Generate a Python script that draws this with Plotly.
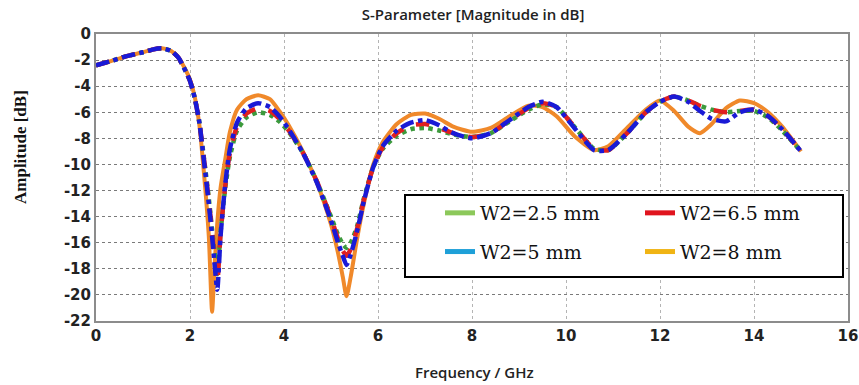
import plotly.graph_objects as go

# Frequency sweep (GHz) shared by all four simulated responses
freq_ghz = [0.0, 0.3, 0.6, 1.0, 1.2, 1.4, 1.6, 1.75, 1.9, 2.0, 2.1, 2.2, 2.3, 2.4,
            2.47, 2.52, 2.58, 2.65, 2.75, 2.85, 3.0, 3.2, 3.45, 3.7, 3.9, 4.1,
            4.4, 4.7, 5.0, 5.15, 5.25, 5.33, 5.42, 5.55, 5.7, 5.9, 6.1, 6.4,
            6.7, 7.0, 7.3, 7.6, 8.0, 8.4, 8.8, 9.2, 9.5, 9.8, 10.2, 10.6, 10.9,
            11.3, 11.7, 12.0, 12.3, 12.6, 12.85, 13.1, 13.4, 13.7, 14.0, 14.3,
            14.6, 15.0]

# |S11| in dB for each W2 width
s11_w2_2_5 = [-2.4, -2.1, -1.75, -1.4, -1.2, -1.1, -1.3, -1.8, -2.8, -3.6, -4.9,
              -6.8, -9.6, -12.6, -15.0, -16.6, -18.4, -15.2, -11.8, -9.4, -7.4,
              -6.4, -6.0, -6.2, -6.7, -7.5, -9.1, -11.3, -14.0, -15.4, -16.1,
              -16.4, -16.0, -14.8, -12.6, -10.2, -8.8, -7.8, -7.3, -7.2, -7.4,
              -7.7, -7.9, -7.6, -6.7, -5.8, -5.4, -5.6, -7.2, -8.8, -8.9, -7.6,
              -6.0, -5.2, -4.8, -5.1, -5.5, -5.8, -6.0, -5.9, -5.9, -6.4, -7.4,
              -9.0]
s11_w2_5 = [-2.4, -2.1, -1.75, -1.4, -1.2, -1.1, -1.3, -1.8, -2.8, -3.6, -4.9,
            -6.8, -9.8, -13.0, -15.5, -17.5, -19.6, -15.5, -11.5, -8.8, -6.8,
            -5.7, -5.3, -5.6, -6.3, -7.3, -9.1, -11.4, -14.3, -16.0, -17.0,
            -17.7, -16.9, -15.2, -12.8, -10.2, -8.6, -7.4, -6.8, -6.6, -7.0,
            -7.6, -8.0, -7.6, -6.6, -5.6, -5.2, -5.6, -7.3, -8.9, -8.9, -7.6,
            -6.0, -5.2, -4.8, -5.2, -5.9, -6.5, -6.7, -6.0, -5.8, -6.3, -7.3,
            -9.0]
s11_w2_6_5 = [-2.4, -2.1, -1.75, -1.4, -1.2, -1.1, -1.3, -1.8, -2.8, -3.6, -4.9,
              -6.8, -9.7, -12.8, -15.2, -17.1, -19.0, -15.3, -11.6, -9.1, -7.1,
              -6.1, -5.7, -5.9, -6.5, -7.4, -9.1, -11.3, -14.1, -15.7, -16.6,
              -17.0, -16.5, -15.0, -12.7, -10.2, -8.7, -7.6, -7.0, -6.9, -7.2,
              -7.6, -7.9, -7.6, -6.6, -5.7, -5.3, -5.6, -7.2, -8.8, -8.9, -7.6,
              -6.0, -5.2, -4.8, -5.1, -5.5, -5.8, -6.0, -5.9, -5.8, -6.3, -7.3,
              -9.0]
s11_w2_8 = [-2.4, -2.1, -1.75, -1.4, -1.2, -1.1, -1.3, -1.8, -2.7, -3.5, -4.8,
            -7.0, -10.8, -15.5, -21.3, -18.0, -14.5, -11.8, -9.6, -7.5, -5.8,
            -5.0, -4.7, -5.0, -5.9, -7.0, -9.0, -11.4, -14.6, -16.8, -18.6,
            -20.1, -18.6, -15.8, -13.0, -10.0, -8.3, -6.9, -6.2, -6.1, -6.5,
            -7.1, -7.5, -7.2, -6.3, -5.5, -5.6, -6.3, -7.9, -8.9, -8.6, -7.2,
            -5.8, -5.1, -5.9, -7.1, -7.6, -6.9, -5.7, -5.1, -5.3, -6.0, -7.1,
            -9.0]

series_names = ["W2=2.5 mm", "W2=6.5 mm", "W2=5 mm", "W2=8 mm"]
series_values = [s11_w2_2_5, s11_w2_6_5, s11_w2_5, s11_w2_8]
curve_colors = ["#3c9a3c", "#e02020", "#1a1ad6", "#f0892a"]
curve_dashes = ["dot", "dash", "dashdot", "solid"]
swatch_colors = ["#8cc85a", "#e0141e", "#1ea0d8", "#f0b414"]

x_tick_vals = [0, 2, 4, 6, 8, 10, 12, 14, 16]
x_tick_text = ["0", "2", "4", "6", "8", "10", "12", "14", "16"]
y_tick_vals = [0, -2, -4, -6, -8, -10, -12, -14, -16, -18, -20, -22]
y_tick_text = ["0", "-2", "-4", "-6", "-8", "-10", "-12", "-14", "-16", "-18",
               "-20", "-22"]

fig = go.Figure()

# Solid W2=8 mm curve underneath, dotted/dashed curves drawn over it
draw_order = [3, 0, 1, 2]
for i in draw_order:
    fig.add_trace(go.Scatter(
        x=freq_ghz, y=series_values[i], mode="lines",
        line=dict(color=curve_colors[i], width=4 if i == 3 else 4.5,
                  dash=curve_dashes[i], shape="spline", smoothing=0.6),
        showlegend=False, hoverinfo="skip"))

# Legend entries: two columns, each its own legend
legend_of = ["legend", "legend2", "legend", "legend2"]
for i, name in enumerate(series_names):
    fig.add_trace(go.Scatter(
        x=[None], y=[None], mode="lines", name=name,
        line=dict(color=swatch_colors[i], width=5),
        legend=legend_of[i], legendgroup=f"g{i}"))

L, R, T, B = 96, 11, 34, 64
W, H = 859, 385
pw, ph = W - L - R, H - T - B

def px_x(px):
    return (px - L) / pw

def px_y(py):
    return (H - B - py) / ph

tick_font = dict(family="DejaVu Sans", size=15, color="#222", weight="bold")
axis_common = dict(showline=True, mirror=True, linecolor="#8c8c8c", linewidth=2,
                   zeroline=False, ticks="", tickfont=tick_font, automargin=False,
                   showgrid=True, griddash="dot", gridwidth=1)

legend_font = dict(family="DejaVu Serif", size=19, color="#111")

fig.update_layout(
    width=W, height=H,
    margin=dict(l=L, r=R, t=T, b=B, autoexpand=False),
    paper_bgcolor="white", plot_bgcolor="white",
    xaxis=dict(range=[0, 16], tickvals=x_tick_vals, ticktext=x_tick_text,
               gridcolor="#b4b4b4", **axis_common),
    yaxis=dict(range=[-22, 0], tickvals=y_tick_vals, ticktext=y_tick_text,
               gridcolor="#7a7a7a", **axis_common),
    title=dict(text="S-Parameter [Magnitude in dB]", x=px_x(473), xanchor="center",
               xref="paper", y=1 - 15 / H, yanchor="middle",
               font=dict(family="Open Sans", size=15, color="#222", weight=600)),
    legend=dict(x=px_x(440), y=px_y(194), xanchor="left", yanchor="top",
                bgcolor="rgba(0,0,0,0)", tracegroupgap=11, font=legend_font),
    legend2=dict(x=px_x(640), y=px_y(194), xanchor="left", yanchor="top",
                 bgcolor="rgba(0,0,0,0)", tracegroupgap=11, font=legend_font),
    shapes=[dict(type="rect", xref="paper", yref="paper",
                 x0=px_x(405), x1=px_x(843), y0=px_y(277), y1=px_y(195),
                 line=dict(color="black", width=2), fillcolor="white",
                 layer="above")],
    annotations=[
        dict(text="Frequency / GHz", xref="paper", yref="paper",
             x=px_x(474), y=px_y(372), xanchor="center", yanchor="middle",
             showarrow=False,
             font=dict(family="Open Sans", size=15, color="#222", weight=600)),
        dict(text="Amplitude [dB]", xref="paper", yref="paper",
             x=px_x(20), y=px_y(147), xanchor="center", yanchor="middle",
             textangle=-90, showarrow=False,
             font=dict(family="Liberation Serif", size=17, color="#111",
                       weight="bold")),
    ],
)

fig.write_html("out.html")
